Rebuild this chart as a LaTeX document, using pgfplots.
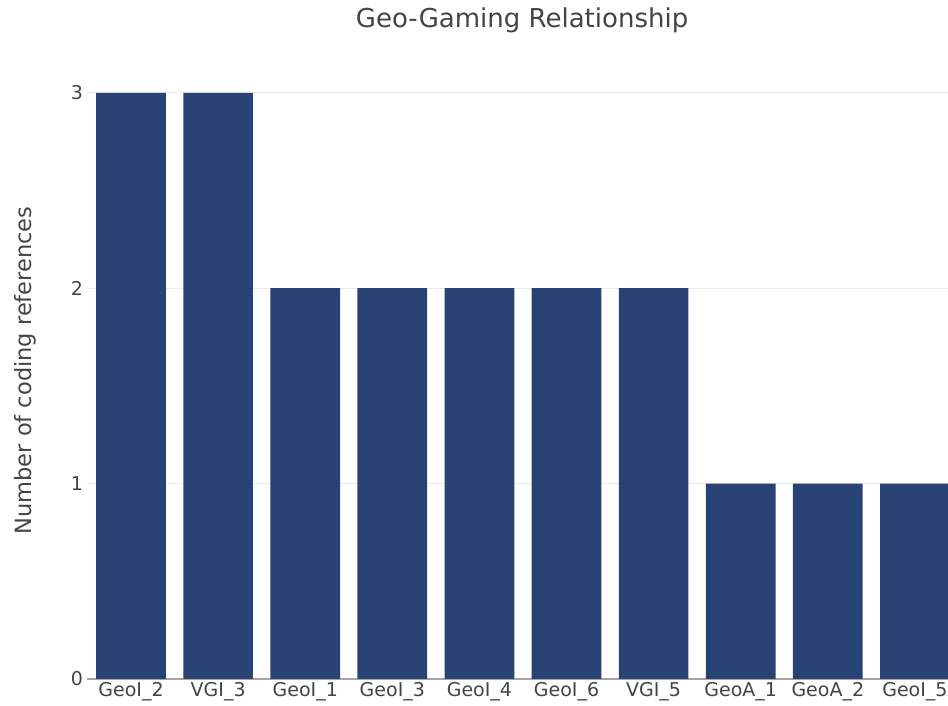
\documentclass[border=0pt]{standalone}
\usepackage{pgfplots}
\pgfplotsset{compat=1.18}
\usepackage{fontspec}
\setmainfont{DejaVu Sans}
\definecolor{barblue}{RGB}{40,67,115}
\definecolor{txt}{RGB}{68,68,68}
\definecolor{gridc}{RGB}{235,235,235}
\definecolor{zeroc}{RGB}{165,165,165}
\begin{document}
\begin{tikzpicture}
\useasboundingbox (-87.5pt,-27pt) rectangle (860.5pt,679pt);
\begin{axis}[
  at={(0pt,0pt)}, anchor=south west,
  scale only axis, width=860.5pt, height=617pt,
  xmin=-0.5, xmax=9.38, ymin=0, ymax=3.158,
  xtick={0,...,9},
  xticklabels={GeoI\_2,VGI\_3,GeoI\_1,GeoI\_3,GeoI\_4,GeoI\_6,VGI\_5,GeoA\_1,GeoA\_2,GeoI\_5},
  ytick={1,2,3},
  extra y ticks={0},
  extra y tick style={grid style={zeroc, line width=1.6pt}},
  ymajorgrids, grid style={gridc, line width=1pt},
  axis line style={draw=none},
  tick style={draw=none},
  /pgf/number format/assume math mode=true,
  ticklabel style={font=\fontsize{19}{22}\selectfont, text=txt},
  yticklabel style={anchor=east, xshift=-1pt},
  title={Geo-Gaming Relationship},
  title style={at={(0.505,1)}, anchor=center, yshift=36pt, font=\fontsize{26}{30}\selectfont, text=txt},
  ylabel={Number of coding references},
  ylabel style={at={(axis description cs:0,0.5)}, anchor=center, yshift=62.5pt, font=\fontsize{22.5}{26}\selectfont, text=txt},
  clip=true,
]
\addplot[ybar, bar width=0.8, fill=barblue, draw=none] coordinates {
  (0,3) (1,3) (2,2) (3,2) (4,2) (5,2) (6,2) (7,1) (8,1) (9,1)
};
\end{axis}
\end{tikzpicture}
\end{document}
